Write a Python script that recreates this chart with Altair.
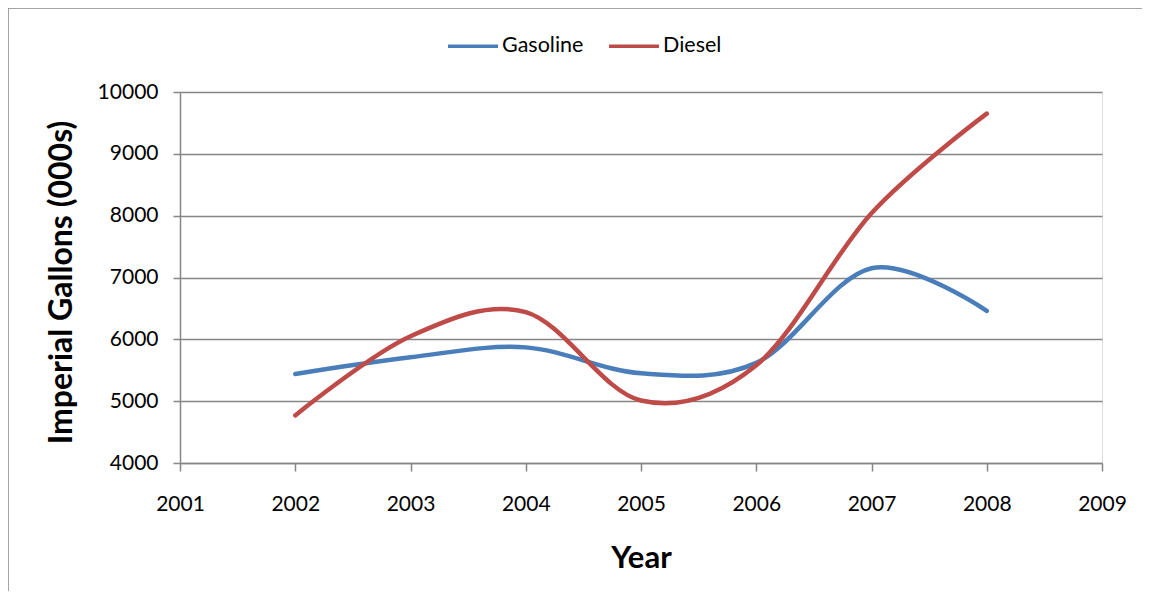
import altair as alt
import pandas as pd

years = [2002, 2003, 2004, 2005, 2006, 2007, 2008]
gasoline = [5440, 5710, 5870, 5450, 5620, 7150, 6460]
diesel = [4770, 6050, 6440, 5010, 5580, 8040, 9650]
series_names = ["Gasoline", "Diesel"]
series_colors = ["#4A7EBB", "#BE4B48"]

rows = []
for y, g, d in zip(years, gasoline, diesel):
    rows.append({"Year": y, "Value": g, "Series": "Gasoline"})
    rows.append({"Year": y, "Value": d, "Series": "Diesel"})
df = pd.DataFrame(rows)

FONT = "Lato"
GRID = "#868686"

lines = alt.Chart(df).mark_line(
    interpolate="cardinal", tension=0, strokeWidth=4.5, strokeCap="round"
).encode(
    x=alt.X("Year:Q",
            scale=alt.Scale(domain=[2001, 2009], nice=False, zero=False),
            axis=alt.Axis(title="Year", values=list(range(2001, 2010)), format="d",
                          grid=False, tickSize=8, tickColor=GRID, domainColor=GRID,
                          domainWidth=1.5, tickWidth=1.5,
                          labelFont=FONT, labelFontSize=21, labelColor="#000000",
                          labelPadding=22, labelFlush=False,
                          titleFont=FONT, titleFontSize=31, titleFontWeight="bold",
                          titleColor="#000000", titleX=461, titleY=104,
                          titleBaseline="alphabetic", titleAlign="center")),
    y=alt.Y("Value:Q",
            scale=alt.Scale(domain=[4000, 10000], nice=False, zero=False),
            axis=alt.Axis(title="Imperial Gallons (000s)",
                          values=list(range(4000, 10001, 1000)),
                          format="d", grid=True, gridColor=GRID, gridWidth=1.5,
                          tickSize=7, tickColor=GRID, domainColor=GRID,
                          domainWidth=1.5, tickWidth=1.5,
                          labelFont=FONT, labelFontSize=21, labelColor="#000000",
                          labelPadding=15,
                          titleFont=FONT, titleFontSize=32, titleFontWeight="bold",
                          titleColor="#000000", titleAngle=-90, titleX=-119,
                          titleY=190, titleAlign="center", titleBaseline="middle")),
    color=alt.Color("Series:N",
                    scale=alt.Scale(domain=series_names, range=series_colors),
                    sort=series_names,
                    legend=alt.Legend(title=None, orient="none", direction="horizontal",
                                      legendX=266, legendY=-73,
                                      symbolType="stroke", symbolSize=2500,
                                      symbolStrokeWidth=3.5, labelFont=FONT,
                                      labelFontSize=21.5, labelColor="#000000",
                                      labelOffset=2, columnPadding=18, padding=0)),
)

frame_src = pd.DataFrame({"a": [0]})
border_top = alt.Chart(frame_src).mark_rule(stroke=GRID, strokeWidth=1.5).encode(
    x=alt.value(-172), x2=alt.value(1000), y=alt.value(-84)
)
border_left = alt.Chart(frame_src).mark_rule(stroke=GRID, strokeWidth=1.5).encode(
    x=alt.value(-172), y=alt.value(-84), y2=alt.value(700)
)

chart = alt.layer(border_top, border_left, lines).properties(
    width=922, height=371,
    autosize=alt.AutoSizeParams(type="none"),
    padding={"left": 172, "top": 84, "right": 40, "bottom": 128},
).configure_view(stroke=None).configure(background="white")

chart.save("out.html", embed_options={"renderer": "svg", "actions": False})
